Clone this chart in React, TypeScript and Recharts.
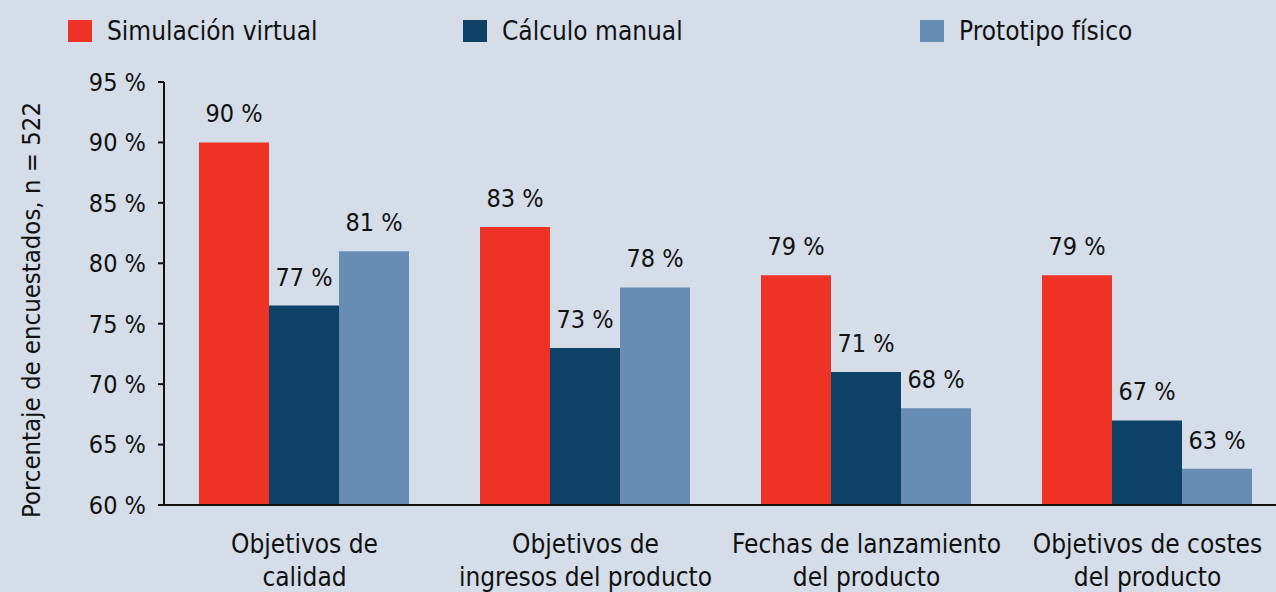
import { BarChart, Bar, XAxis, YAxis, LabelList } from 'recharts';

const categories = [
  ['Objetivos de', 'calidad'],
  ['Objetivos de', 'ingresos del producto'],
  ['Fechas de lanzamiento', 'del producto'],
  ['Objetivos de costes', 'del producto'],
];
const seriesNames = ['Simulación virtual', 'Cálculo manual', 'Prototipo físico'];
const seriesColors = ['#ee3226', '#0d4166', '#678db4'];
const simulacion = [90, 83, 79, 79];
const calculo = [76.5, 73, 71, 67];
const prototipo = [81, 78, 68, 63];
const yTicks = [60, 65, 70, 75, 80, 85, 90, 95];

const data = categories.map((lines, i) => ({
  name: lines.join(' '),
  sim: simulacion[i],
  calc: calculo[i],
  proto: prototipo[i],
}));

const FONT = '"DejaVu Sans Condensed", "DejaVu Sans", sans-serif';
const INK = '#111';
const legendLeft = [68, 463, 920];

const pct = (v: any) => `${Math.round(Number(v))} %`;

function XTick(props: any) {
  const { x, y, index } = props;
  const lines = categories[index] || [];
  return (
    <g>
      {lines.map((l, k) => (
        <text key={k} x={x} y={y + 40 + k * 33} textAnchor="middle" fontSize={26} fill={INK} fontFamily={FONT}>
          {l}
        </text>
      ))}
    </g>
  );
}

export default function App() {
  const keys = ['sim', 'calc', 'proto'];
  return (
    <div style={{ position: 'absolute', left: 0, top: 0, width: 1276, height: 592, overflow: 'hidden', background: '#d5dde9' }}>
      {seriesNames.map((n, i) => (
        <div key={n} style={{ position: 'absolute', left: legendLeft[i], top: 15, display: 'flex', alignItems: 'center', fontFamily: FONT, fontSize: 26, color: INK, lineHeight: '32px' }}>
          <span style={{ width: 24, height: 22, background: seriesColors[i], display: 'inline-block', marginRight: 15 }} />
          <span>{n}</span>
        </div>
      ))}
      <BarChart width={1290} height={592} data={data} margin={{ top: 82, right: 2, bottom: 57, left: 14 }} barGap={0} barCategoryGap={35}>
        <YAxis
          width={150}
          domain={[60, 95]}
          ticks={yTicks}
          interval={0}
          tickFormatter={(v) => `${v} %`}
          tick={{ fontSize: 25, fill: INK, fontFamily: FONT }}
          tickSize={6}
          tickMargin={12}
          tickLine={{ stroke: INK, strokeWidth: 2 }}
          axisLine={{ stroke: INK, strokeWidth: 2 }}
          allowDataOverflow
          label={{
            content: () => (
              <text transform="translate(31,310) rotate(-90)" textAnchor="middle" dominantBaseline="central" fontSize={25.5} fill={INK} fontFamily={FONT}>
                Porcentaje de encuestados, n = 522
              </text>
            ),
          }}
        />
        <XAxis dataKey="name" height={30} interval={0} tickLine={false} axisLine={{ stroke: INK, strokeWidth: 2 }} tick={<XTick />} />
        {keys.map((k, i) => (
          <Bar key={k} dataKey={k} name={seriesNames[i]} fill={seriesColors[i]} isAnimationActive={false}>
            <LabelList dataKey={k} position="top" offset={20} formatter={pct} style={{ fontSize: 25, fill: INK, fontFamily: FONT }} />
          </Bar>
        ))}
      </BarChart>
    </div>
  );
}
